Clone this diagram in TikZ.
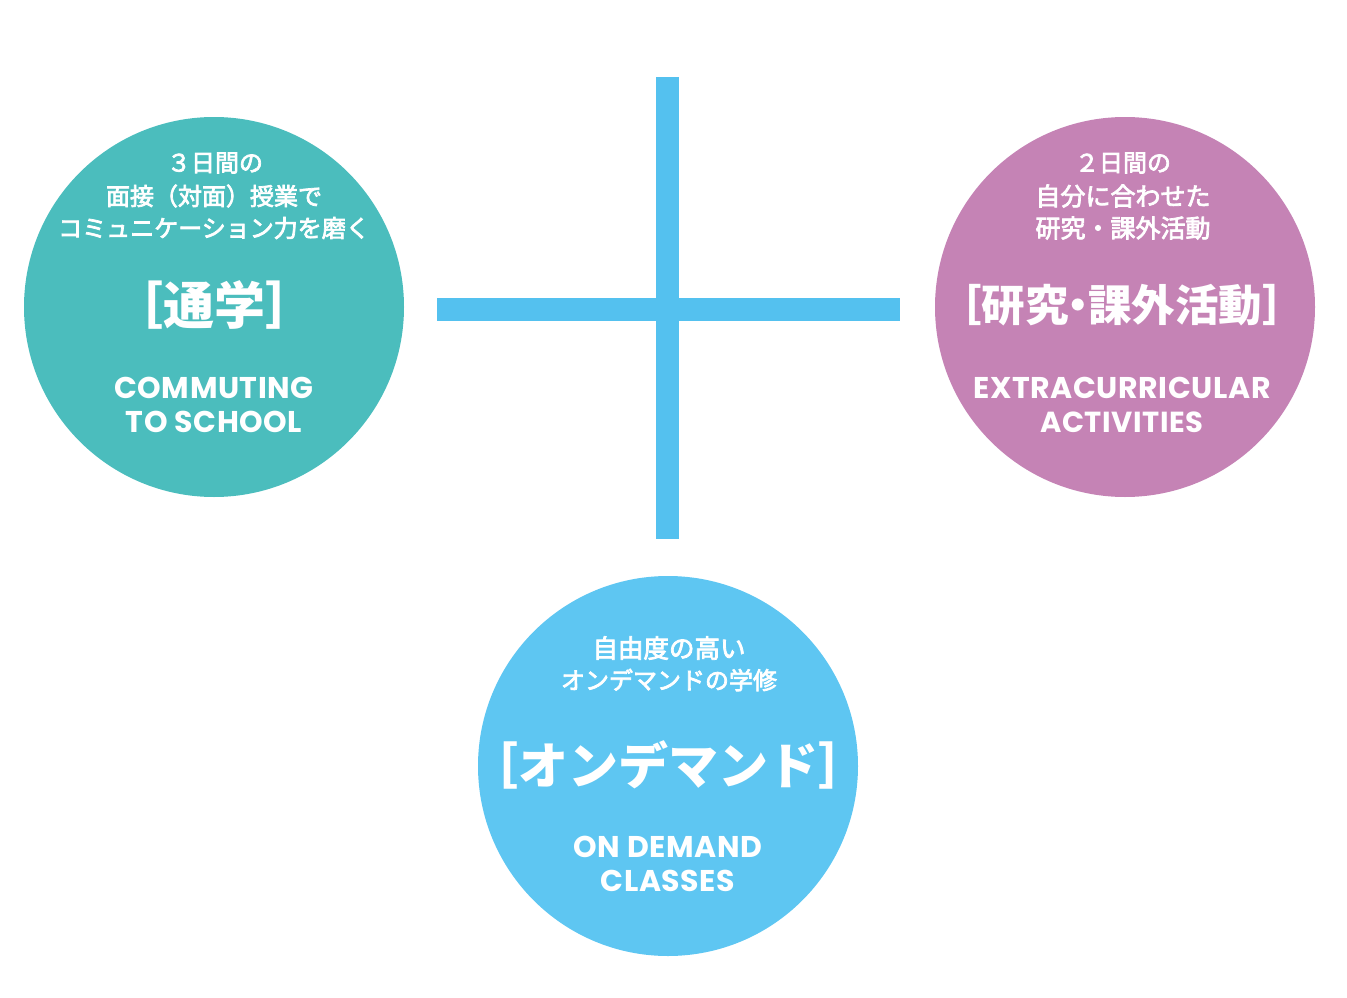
\documentclass[tikz,border=0pt]{standalone}
\usepackage{fontspec}
\newfontfamily\jp{Noto Sans CJK JP}
\newfontfamily\jpm[FakeBold=3]{Noto Sans CJK JP}
\newfontfamily\en[LetterSpace=2]{Poppins}
\definecolor{tealc}{RGB}{75,189,189}
\definecolor{pinkc}{RGB}{197,131,181}
\definecolor{bluec}{RGB}{94,198,242}
\definecolor{crossc}{RGB}{84,193,239}
\tikzset{
  disc/.style={circle, minimum size=380pt, inner sep=0pt},
  small/.style={text=white, inner sep=0pt, font=\jpm\fontsize{24}{24}\selectfont},
  title/.style={text=white, inner sep=0pt, font=\jp\bfseries\fontsize{50}{50}\selectfont},
  eng/.style={text=white, inner sep=0pt, font=\en\bfseries\fontsize{30}{30}\selectfont},
  crossbar/.style={draw=crossc, line width=23pt, line cap=butt}
}
\begin{document}
\begin{tikzpicture}[x=1pt,y=-1pt]
\useasboundingbox (0,0) rectangle (1347,998);
% circles
\node[disc, fill=tealc] (left) at (214,307) {};
\node[disc, fill=pinkc] (right) at (1125,307) {};
\node[disc, fill=bluec] (bottom) at (668,766) {};
% cross
\coordinate (ctop) at (667.5,77);
\coordinate (cbot) at (667.5,539);
\coordinate (cleft) at (437,309.5);
\coordinate (cright) at (900,309.5);
\draw[crossbar] (ctop) -- (cbot);
\draw[crossbar] (cleft) -- (cright);
% left texts
\node[small] (l1) at (215,163) {３日間の};
\node[small] (l2) at (214,196) {面接（対面）授業で};
\node[small] (l3) at (214,228) {コミュニケーション力を磨く};
\node[title, font=\jp\bfseries\fontsize{51}{51}\selectfont] (lt) at (214,305) {［通学］};
\node[eng] (le1) at (214,388) {COMMUTING};
\node[eng] (le2) at (214,422) {TO SCHOOL};
% right texts
\node[small] (r1) at (1123,163) {２日間の};
\node[small, font=\jpm\fontsize{25}{25}\selectfont] (r2) at (1123,196) {自分に合わせた};
\node[small, font=\jpm\fontsize{25}{25}\selectfont] (r3) at (1123,228) {研究・課外活動};
\node[title, font=\jp\bfseries\fontsize{43.5}{43.5}\selectfont] (rt) at (1122,305) {［研究\hspace{-0.28em}・\hspace{-0.28em}課外活動］};
\node[eng] (re1) at (1122,388) {EXTRACURRICULAR};
\node[eng, font=\en\bfseries\fontsize{29}{29}\selectfont] (re2) at (1122,422) {ACTIVITIES};
% bottom texts
\node[small, font=\jpm\fontsize{25.5}{25.5}\selectfont] (b1) at (669,648) {自由度の高い};
\node[small] (b2) at (669,680) {オンデマンドの学修};
\node[title] (bt) at (668,765) {［オンデマンド］};
\node[eng] (be1) at (668,847) {ON DEMAND};
\node[eng] (be2) at (668,881) {CLASSES};
\end{tikzpicture}
\end{document}
